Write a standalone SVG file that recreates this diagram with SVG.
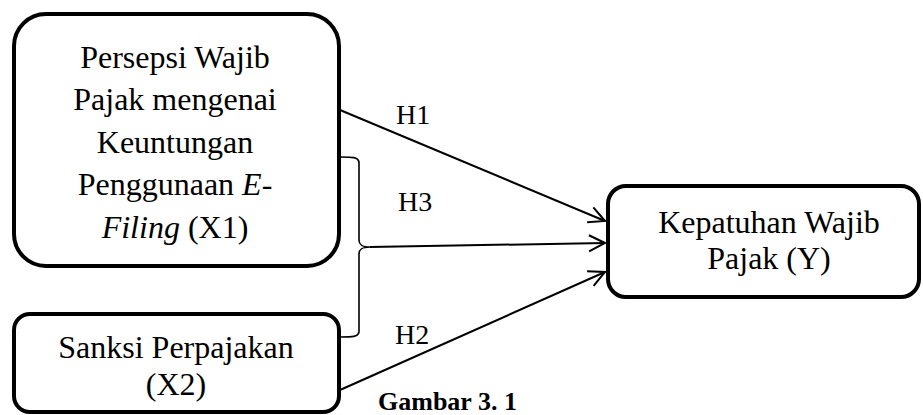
<svg xmlns="http://www.w3.org/2000/svg" width="923" height="415" viewBox="0 0 923 415">
<defs>
<style>
.box{fill:#fff;stroke:#000;stroke-width:4}
.ln{fill:none;stroke:#000;stroke-width:2}
.br{fill:none;stroke:#000;stroke-width:1.6}
</style>
<marker id="arr" viewBox="0 0 20 20" refX="18" refY="10" markerWidth="20" markerHeight="20" markerUnits="userSpaceOnUse" orient="auto">
<path d="M2,2 L18,10 L2,18" fill="none" stroke="#000" stroke-width="2"/>
</marker>
</defs>
<rect width="923" height="415" fill="#fff"/>
<g font-family="Liberation Serif, Times New Roman, serif" fill="#000">
<g id="connectors">
<path class="br" d="M341,157 C352,157 358,157 359,162 L359,240 C359,245 362,247 370,247 C362,247 359,249 359,254 L359,332 C358,337 352,337 341,337"/>
<line class="ln" x1="340" y1="110" x2="605" y2="221" marker-end="url(#arr)"/>
<line class="ln" x1="370" y1="247" x2="605" y2="243" marker-end="url(#arr)"/>
<line class="ln" x1="340" y1="390" x2="605" y2="272" marker-end="url(#arr)"/>
<g font-size="28">
<text x="396" y="124">H1</text>
<text x="398" y="211">H3</text>
<text x="395" y="344">H2</text>
</g>
</g>
<g id="x1" font-size="32" text-anchor="middle">
<rect class="box" x="14" y="14" width="325" height="252" rx="32" ry="32"/>
<text x="175" y="68">Persepsi Wajib</text>
<text x="175" y="110">Pajak mengenai</text>
<text x="175" y="153">Keuntungan</text>
<text x="175" y="195">Penggunaan <tspan font-style="italic">E-</tspan></text>
<text x="175" y="238"><tspan font-style="italic">Filing</tspan> (X1)</text>
</g>
<g id="x2" font-size="32" text-anchor="middle">
<rect class="box" x="14" y="314" width="325" height="98" rx="16" ry="16"/>
<text x="176" y="358">Sanksi Perpajakan</text>
<text x="176" y="395">(X2)</text>
</g>
<g id="y" font-size="32" text-anchor="middle">
<rect class="box" x="608" y="186" width="311" height="111" rx="18" ry="18"/>
<text x="769" y="233">Kepatuhan Wajib</text>
<text x="769" y="269">Pajak (Y)</text>
</g>
<text x="378" y="410" font-size="26" font-weight="bold">Gambar 3. 1</text>
</g>
</svg>
